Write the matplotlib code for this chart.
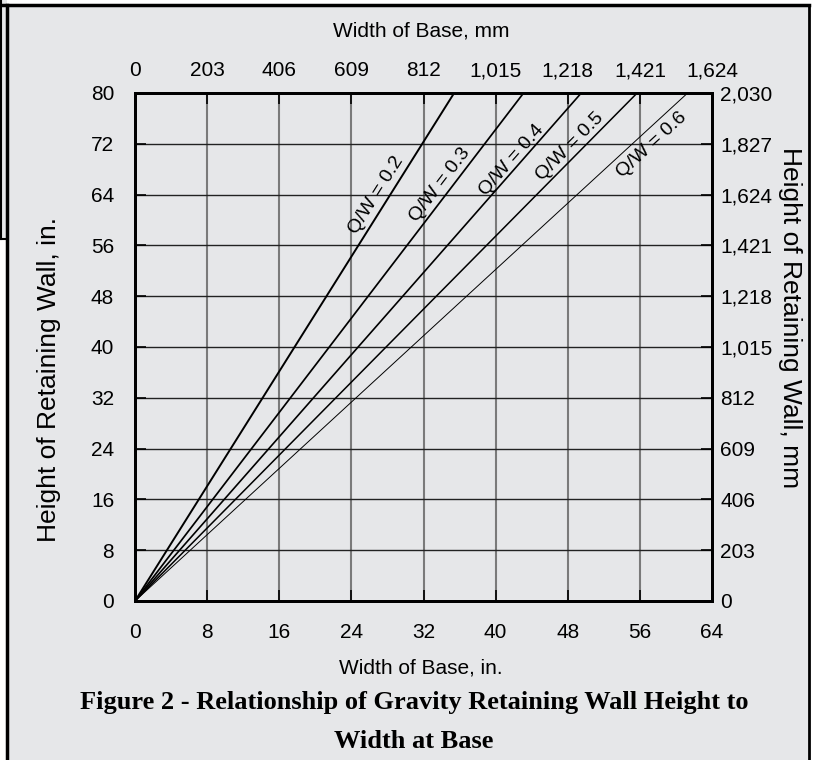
import numpy as np
import matplotlib.pyplot as plt
from matplotlib.patches import Rectangle
from matplotlib.lines import Line2D

# data
qw_ratio = [0.2, 0.3, 0.4, 0.5, 0.6]
wall_height_top = 80
base_width_at_top = [35.4, 43.1, 49.5, 55.7, 61.3]
label_pos = [(26.8, 63.9), (33.8, 65.5), (41.8, 69.4), (48.2, 71.5), (57.3, 71.8)]
line_widths = [1.4, 1.25, 1.2, 1.1, 0.7]

in_ticks = np.arange(0, 65, 8)
in_height_ticks = np.arange(0, 81, 8)
mm_width_ticks = [0, 203, 406, 609, 812, 1015, 1218, 1421, 1624]
mm_height_ticks = [0, 203, 406, 609, 812, 1015, 1218, 1421, 1624, 1827, 2030]

bg = "#e6e7e9"
plt.rcParams["font.family"] = ["Liberation Sans", "DejaVu Sans"]

fig = plt.figure(figsize=(8.14, 7.6), dpi=100, facecolor="white")
W, H = 814, 760

# outer frame and the clipped box on the left
fig.patches.append(Rectangle((6 / W, 0), 803 / W, 755 / H,
                             transform=fig.transFigure, facecolor=bg,
                             edgecolor="none", zorder=-5))
fig.patches.append(Rectangle((0, 1 - 239 / H), 7 / W, 239 / H,
                             transform=fig.transFigure, facecolor=bg,
                             edgecolor="none", zorder=-5))
for xs, ys, lw in [([6.5, 6.5], [5, 760], 2.5), ([0, 809], [5, 5], 2.5),
                   ([808.5, 808.5], [5, 760], 2.0), ([1, 1], [0, 239], 1.5),
                   ([0, 7], [239, 239], 1.5)]:
    fig.lines.append(Line2D([x / W for x in xs], [1 - y / H for y in ys],
                            transform=fig.transFigure, color="black", lw=lw,
                            zorder=10))

ax = fig.add_axes([135 / W, 1 - 601 / H, 577 / W, 508 / H])
ax.set_facecolor(bg)
ax.set_xlim(0, 64)
ax.set_ylim(0, 80)
ax.set_xticks(in_ticks)
ax.set_yticks(in_height_ticks)
ax.tick_params(direction="in", length=8, width=1.2, labelsize=15)
ax.tick_params(axis="x", pad=16)
ax.tick_params(axis="y", pad=15)
for s in ax.spines.values():
    s.set_linewidth(2)
for x in in_ticks[1:-1]:
    ax.axvline(x, color="#7a7a7a", lw=1.5, zorder=1)
for y in in_height_ticks[1:-1]:
    ax.axhline(y, color="#222222", lw=1.0, zorder=1)

for q, w, (lx, ly), lw in zip(qw_ratio, base_width_at_top, label_pos, line_widths):
    ax.plot([0, w], [0, wall_height_top], color="black", lw=lw, zorder=3)
    ang = np.degrees(np.arctan2(wall_height_top, w))
    ax.text(lx, ly, f"Q/W = {q}", rotation=ang, transform_rotates_text=True,
            rotation_mode="anchor", ha="center", va="center", fontsize=14, zorder=4)

ax_top = ax.twiny()
ax_top.set_xlim(0, 1624)
ax_top.set_xticks(mm_width_ticks)
ax_top.set_xticklabels([f"{v:,}" for v in mm_width_ticks])
ax_top.tick_params(direction="in", length=8, width=1.2, labelsize=15, pad=9)

ax_right = ax.twinx()
ax_right.set_ylim(0, 2030)
ax_right.set_yticks(mm_height_ticks)
ax_right.set_yticklabels([f"{v:,}" for v in mm_height_ticks])
ax_right.tick_params(direction="in", length=8, width=1.2, labelsize=15, pad=6)
for a in (ax_top, ax_right):
    for s in a.spines.values():
        s.set_linewidth(2)

# axis titles placed where they sit in the picture
fig.text(421 / W, 1 - 31 / H, "Width of Base, mm", fontsize=15,
         ha="center", va="center")
fig.text(421 / W, 1 - 668 / H, "Width of Base, in.", fontsize=15,
         ha="center", va="center")
fig.text(49 / W, 1 - 379 / H, "Height of Retaining Wall, in.", fontsize=19,
         rotation=90, ha="center", va="center")
fig.text(790 / W, 1 - 318 / H, "Height of Retaining Wall, mm", fontsize=19,
         rotation=-90, ha="center", va="center")

fig.text(414 / W, 1 - 703 / H,
         "Figure 2 - Relationship of Gravity Retaining Wall Height to",
         family="Liberation Serif", weight="bold", fontsize=19,
         ha="center", va="center")
fig.text(414 / W, 1 - 741 / H, "Width at Base",
         family="Liberation Serif", weight="bold", fontsize=19,
         ha="center", va="center")

fig.savefig("out.png", dpi=100, facecolor="white")
